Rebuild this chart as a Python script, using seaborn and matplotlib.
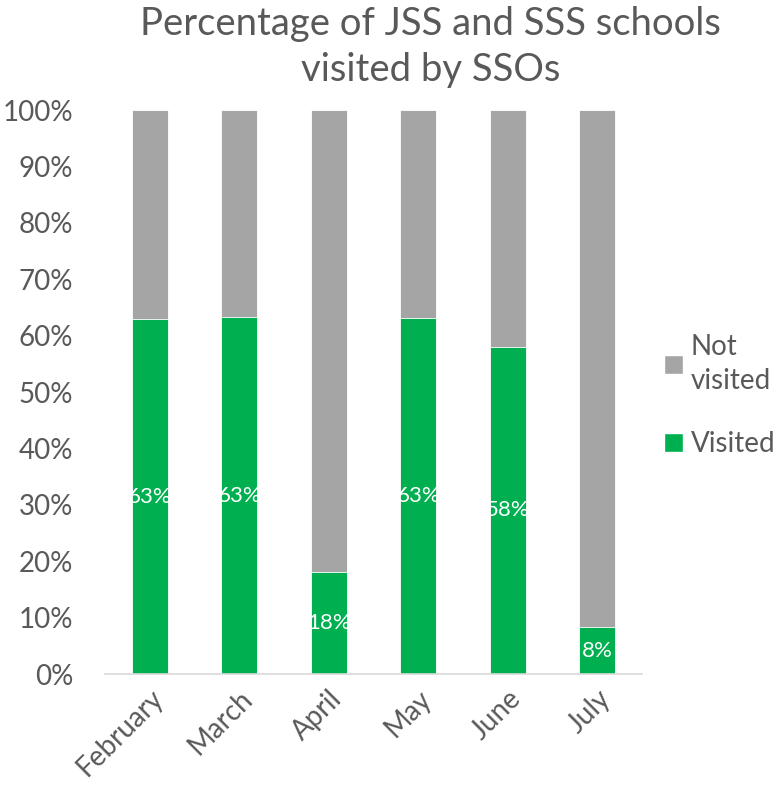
import numpy as np
import pandas as pd
import matplotlib
matplotlib.use("Agg")
import matplotlib.pyplot as plt
import seaborn as sns
from matplotlib.patches import Patch

months = ["February", "March", "April", "May", "June", "July"]
visited = [62.9, 63.3, 18.1, 63.1, 58.0, 8.3]
visited_labels = ["63%", "63%", "18%", "63%", "58%", "8%"]
not_visited = [100 - v for v in visited]

green = "#00B050"
grey = "#A5A5A5"
text_col = "#595959"

sns.set_theme(style="white")
plt.rcParams["font.family"] = ["Lato", "DejaVu Sans"]

df = pd.DataFrame({"month": months, "visited": visited, "total": [100] * len(months)})

fig = plt.figure(figsize=(7.79, 7.99), dpi=100)
ax = fig.add_axes([0.1348, 0.1564, 0.6892, 0.7059])

# total bar (grey) underneath, visited (green) on top -> stacked look
sns.barplot(data=df, x="month", y="total", color=grey, width=0.4,
            edgecolor="white", linewidth=0.6, saturation=1, ax=ax)
sns.barplot(data=df, x="month", y="visited", color=green, width=0.4,
            edgecolor="white", linewidth=0.6, saturation=1, ax=ax)

for i, (v, lab) in enumerate(zip(visited, visited_labels)):
    ax.text(i, v / 2, lab, ha="center", va="center", color="white", fontsize=16)

ax.set_xlim(-0.5, len(months) - 0.5)
ax.set_ylim(0, 100)
ax.set_yticks(np.arange(0, 101, 10))
ax.set_yticklabels([f"{t}%" for t in range(0, 101, 10)])
ax.set_xlabel("")
ax.set_ylabel("")
ax.tick_params(axis="y", labelsize=20, colors=text_col, length=0, pad=23)
ax.tick_params(axis="x", labelsize=20, colors=text_col, length=0, pad=8)
plt.setp(ax.get_xticklabels(), rotation=45, ha="right", rotation_mode="anchor")

for s in ["top", "right", "left"]:
    ax.spines[s].set_visible(False)
ax.spines["bottom"].set_color("#D9D9D9")
ax.spines["bottom"].set_linewidth(1.2)

fig.text(0.553, 0.941, "Percentage of JSS and SSS schools\nvisited by SSOs",
         ha="center", va="center", fontsize=27.5, color=text_col, linespacing=1.35)

handles = [Patch(facecolor=grey, label="Not\nvisited"),
           Patch(facecolor=green, label="Visited")]
leg = fig.legend(handles=handles, loc="center left", bbox_to_anchor=(0.853, 0.505),
                 frameon=False, fontsize=20, handlelength=0.65, handleheight=0.65,
                 handletextpad=0.3, labelspacing=1.35, labelcolor=text_col,
                 borderpad=0, borderaxespad=0)
for t in leg.get_texts():
    t.set_linespacing(1.4)

fig.savefig("out.png", dpi=100)
